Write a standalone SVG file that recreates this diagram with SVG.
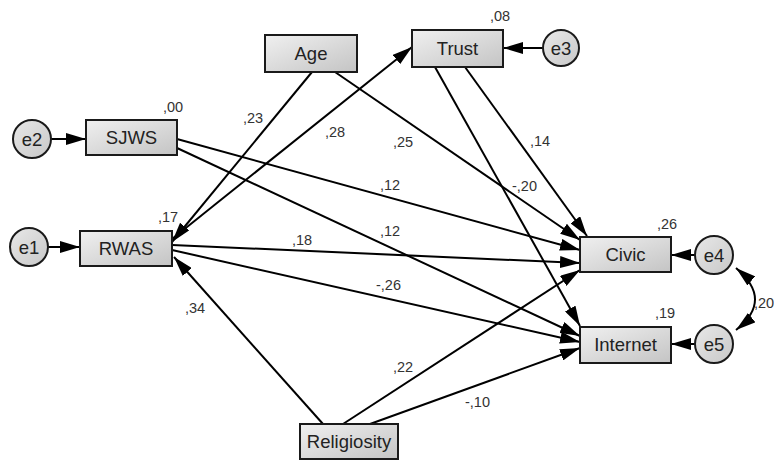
<svg xmlns="http://www.w3.org/2000/svg" width="774" height="461" viewBox="0 0 774 461">
<style>
.box{stroke:#1a1a1a;stroke-width:2;fill:url(#g)}
.circ{stroke:#1a1a1a;stroke-width:2;fill:url(#gc)}
.nt{font-family:"Liberation Sans",Arial,sans-serif;font-size:18.5px;fill:#222;text-anchor:middle}
.lb{font-family:"Liberation Sans",Arial,sans-serif;font-size:14.5px;fill:#333}
.c line,.c path{stroke:#000;stroke-width:2;fill:none;marker-end:url(#arr)}
</style>
<defs>
<linearGradient id="g" x1="0" y1="0" x2="1" y2="1">
<stop offset="0" stop-color="#f0f0f0"/><stop offset="1" stop-color="#c4c4c4"/>
</linearGradient>
<linearGradient id="gc" x1="0" y1="0" x2="1" y2="1">
<stop offset="0" stop-color="#e8e8e8"/><stop offset="1" stop-color="#c8c8c8"/>
</linearGradient>
<marker id="arr" markerUnits="userSpaceOnUse" markerWidth="21" markerHeight="12" refX="20" refY="6" orient="auto-start-reverse">
<path d="M0,0 L20,6 L0,12 z" fill="#000"/>
</marker>
</defs>
<rect width="774" height="461" fill="#fff"/>
<g class="c" id="connectors">
<line x1="51" y1="139" x2="86" y2="139"/>
<line x1="48" y1="247" x2="80" y2="247"/>
<line x1="543" y1="48" x2="503" y2="48"/>
<line x1="695" y1="255" x2="671" y2="255"/>
<line x1="695" y1="344" x2="671" y2="344"/>
<path d="M736,330 Q774,300 736,268" style="marker-start:url(#arr)"/>
<line x1="312" y1="72" x2="172" y2="242"/>
<line x1="172" y1="239" x2="412" y2="47"/>
<line x1="335" y1="72" x2="580" y2="240"/>
<line x1="465" y1="67" x2="587" y2="236"/>
<line x1="435" y1="67" x2="580" y2="326"/>
<line x1="177" y1="139" x2="580" y2="250"/>
<line x1="177" y1="148" x2="580" y2="336"/>
<line x1="172" y1="245" x2="580" y2="263"/>
<line x1="172" y1="250" x2="580" y2="342"/>
<line x1="323" y1="424" x2="174" y2="257"/>
<line x1="343" y1="424" x2="580" y2="270"/>
<line x1="370" y1="424" x2="580" y2="348"/>
</g>
<g id="e2"><circle class="circ" cx="32" cy="139" r="19"/><text class="nt" x="32" y="145.5">e2</text></g>
<g id="e1"><circle class="circ" cx="29" cy="247" r="19"/><text class="nt" x="29" y="253.5">e1</text></g>
<g id="e3"><circle class="circ" cx="561" cy="48" r="18"/><text class="nt" x="561" y="54.5">e3</text></g>
<g id="e4"><circle class="circ" cx="714" cy="255" r="19"/><text class="nt" x="714" y="261.5">e4</text></g>
<g id="e5"><circle class="circ" cx="714" cy="344" r="19"/><text class="nt" x="714" y="350.5">e5</text></g>
<g id="SJWS"><rect class="box" x="86" y="120" width="91" height="35"/><text class="nt" x="131.5" y="144">SJWS</text><text class="lb" x="163" y="112">,00</text></g>
<g id="RWAS"><rect class="box" x="80" y="231" width="92" height="35"/><text class="nt" x="126" y="255">RWAS</text><text class="lb" x="158" y="222">,17</text></g>
<g id="Age"><rect class="box" x="265" y="35" width="92" height="37"/><text class="nt" x="311" y="60">Age</text></g>
<g id="Trust"><rect class="box" x="412" y="30" width="91" height="37"/><text class="nt" x="457.5" y="55">Trust</text><text class="lb" x="490" y="21">,08</text></g>
<g id="Civic"><rect class="box" x="580" y="237" width="91" height="35"/><text class="nt" x="625.5" y="261">Civic</text><text class="lb" x="657" y="229">,26</text></g>
<g id="Internet"><rect class="box" x="580" y="327" width="91" height="36"/><text class="nt" x="625.5" y="351">Internet</text><text class="lb" x="655" y="318">,19</text></g>
<g id="Religiosity"><rect class="box" x="300" y="424" width="98" height="35"/><text class="nt" x="349" y="448">Religiosity</text></g>
<g id="labels">
<text class="lb" x="754" y="308">,20</text>
<text class="lb" x="243" y="123">,23</text>
<text class="lb" x="325" y="137">,28</text>
<text class="lb" x="393" y="147">,25</text>
<text class="lb" x="530" y="146">,14</text>
<text class="lb" x="380" y="190">,12</text>
<text class="lb" x="512" y="191">-,20</text>
<text class="lb" x="380" y="236">,12</text>
<text class="lb" x="292" y="245">,18</text>
<text class="lb" x="376" y="290">-,26</text>
<text class="lb" x="185" y="313">,34</text>
<text class="lb" x="393" y="372">,22</text>
<text class="lb" x="465" y="407">-,10</text>
</g>
</svg>
